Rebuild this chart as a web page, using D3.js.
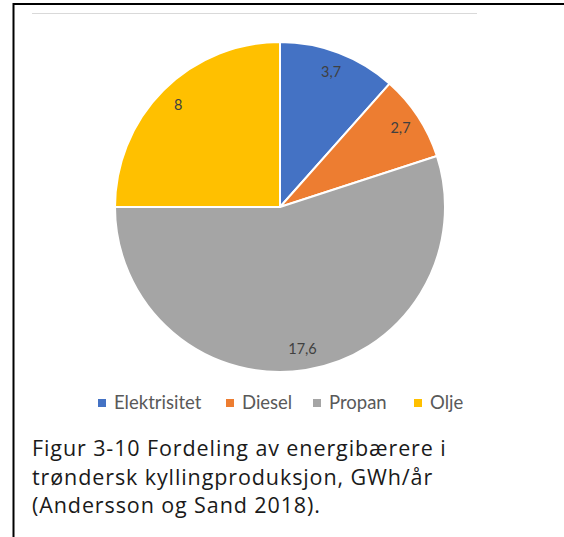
<!DOCTYPE html>
<html>
<head>
<meta charset="utf-8">
<script src="https://cdn.jsdelivr.net/npm/d3@7"></script>
<style>
  html, body { margin: 0; padding: 0; background: #fff; }
  svg { display: block; }
</style>
</head>
<body>
<svg id="chart" width="564" height="537"></svg>
<script>
// Energy carriers in Trøndelag chicken production, GWh/year
const categories = ["Elektrisitet", "Diesel", "Propan", "Olje"];
const values = [3.7, 2.7, 17.6, 8];
const valueLabels = ["3,7", "2,7", "17,6", "8"];
const colors = ["#4472C4", "#ED7D31", "#A5A5A5", "#FFC000"];
const captionLines = [
  "Figur 3-10 Fordeling av energibærere i",
  "trøndersk kyllingproduksjon, GWh/år",
  "(Andersson og Sand 2018)."
];

const svg = d3.select("#chart");

// frame around the figure
svg.append("line").attr("x1", 13.5).attr("x2", 13.5).attr("y1", 3).attr("y2", 537)
  .attr("stroke", "#000").attr("stroke-width", 2);
svg.append("line").attr("x1", 13).attr("x2", 564).attr("y1", 4).attr("y2", 4)
  .attr("stroke", "#000").attr("stroke-width", 2);

// thin chart-area rule
svg.append("line").attr("x1", 32).attr("x2", 477).attr("y1", 13.5).attr("y2", 13.5)
  .attr("stroke", "#d9d9d9").attr("stroke-width", 1);

const cx = 280, cy = 207, r = 165;
const pie = d3.pie().sort(null).value(d => d.v);
const arcs = pie(categories.map((c, i) => ({ c, v: values[i], label: valueLabels[i], color: colors[i] })));
const arc = d3.arc().innerRadius(0).outerRadius(r);
const labelArc = d3.arc().innerRadius(144).outerRadius(144);

const g = svg.append("g").attr("transform", `translate(${cx},${cy})`);
g.selectAll("path.slice").data(arcs).join("path")
  .attr("class", "slice")
  .attr("d", arc)
  .attr("fill", d => d.data.color)
  .attr("stroke", "#fff")
  .attr("stroke-width", 2)
  .attr("stroke-linejoin", "round");

g.selectAll("text.val").data(arcs).join("text")
  .attr("class", "val")
  .attr("transform", d => `translate(${labelArc.centroid(d)})`)
  .attr("text-anchor", "middle")
  .attr("dy", "0.35em")
  .attr("font-family", "Lato, 'Open Sans', sans-serif")
  .attr("font-size", 14.5)
  .attr("fill", "#404040")
  .text(d => d.data.label);

// legend
const legendX = [98, 226, 313, 414];
const legend = svg.append("g");
const items = legend.selectAll("g").data(categories).join("g")
  .attr("transform", (d, i) => `translate(${legendX[i]},403)`);
items.append("rect").attr("x", 0).attr("y", -4).attr("width", 8).attr("height", 8)
  .attr("fill", (d, i) => colors[i]);
items.append("text").attr("x", 16).attr("dy", "0.35em")
  .attr("font-family", "Lato, 'Open Sans', sans-serif")
  .attr("font-size", 18.5)
  .attr("fill", "#595959")
  .text(d => d);

// caption
svg.append("g").selectAll("text").data(captionLines).join("text")
  .attr("x", 32)
  .attr("y", (d, i) => 456 + i * 28.5)
  .attr("font-family", "'Open Sans', Lato, sans-serif")
  .attr("font-size", 21.5)
  .attr("letter-spacing", 0.9)
  .attr("fill", "#1a1a1a")
  .text(d => d);
</script>
</body>
</html>
